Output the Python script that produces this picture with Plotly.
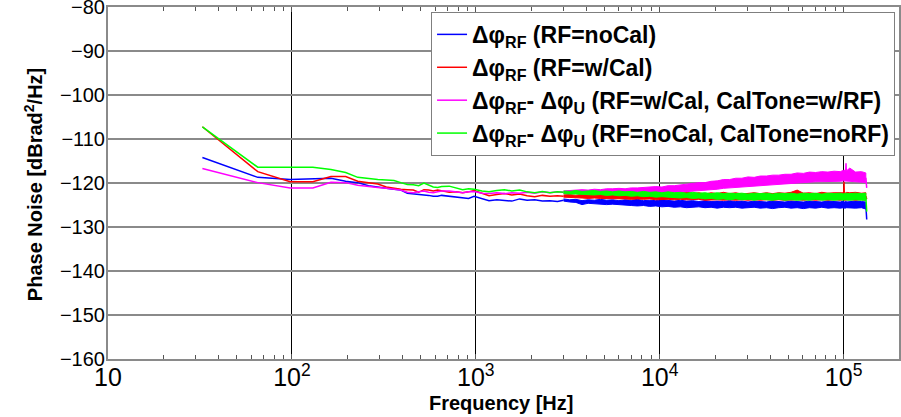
import plotly.graph_objects as go

# ---------------- data ----------------
# low-frequency part (drawn as plain lines), Hz
F_LOW = [32.6, 65.2, 97.8, 130, 163, 196, 228, 261, 293, 326,
         359, 391, 424, 457, 489, 522, 554, 587, 620, 652,
         717, 783, 848, 913, 978, 1080, 1180, 1300, 1430, 1570,
         1730, 1900, 2090, 2300, 2530, 2780, 3000]

blue_low = [-114.2, -118.7, -119.2, -119.1, -118.9, -119.6, -119.9, -120.6, -121.0, -121.2,
            -121.4, -121.6, -122.3, -122.4, -122.5, -122.7, -122.8, -123.0, -123.0, -122.8,
            -123.0, -123.1, -123.4, -123.5, -123.0, -123.6, -124.0, -123.8, -123.9, -124.1,
            -123.6, -123.9, -123.8, -124.1, -124.0, -124.2, -123.9]
red_low = [-107.2, -117.4, -119.7, -119.7, -118.5, -118.5, -119.6, -119.9, -120.2, -120.9,
           -121.2, -121.4, -121.5, -121.6, -122.1, -121.5, -121.6, -121.8, -121.6, -121.8,
           -122.1, -122.0, -122.2, -122.0, -121.7, -122.3, -122.9, -122.6, -122.4, -122.7,
           -122.5, -122.9, -123.1, -122.8, -123.0, -122.9, -123.0]
mag_low = [-116.7, -119.9, -121.1, -121.1, -119.8, -119.9, -120.5, -120.7, -121.0, -121.2,
           -121.4, -121.6, -122.1, -122.2, -122.0, -121.8, -122.1, -122.2, -122.0, -121.8,
           -121.8, -122.1, -122.2, -122.0, -121.9, -122.3, -122.4, -122.2, -122.4, -122.2,
           -122.3, -122.1, -122.3, -122.0, -122.2, -122.0, -122.1]
green_low = [-107.2, -116.4, -116.4, -116.4, -116.9, -117.6, -118.7, -119.0, -119.2, -119.3,
             -119.4, -119.9, -120.3, -120.4, -120.6, -120.0, -120.5, -120.9, -121.0, -120.8,
             -120.7, -121.1, -121.5, -121.3, -121.4, -121.8, -122.0, -121.7, -121.5, -121.8,
             -121.6, -122.0, -122.2, -121.9, -122.2, -122.0, -122.1]

# high-frequency noisy part: upper / lower edges of each band, Hz
F_BAND = [3000, 3240, 3500, 3780, 4080, 4410, 4760, 5140, 5550, 6000,
          6480, 7000, 7560, 8160, 8810, 9520, 10280, 11100, 11990, 12950,
          13990, 15110, 16320, 17620, 19030, 20550, 22200, 23970, 25890, 27960,
          30200, 32620, 35220, 38040, 41090, 44370, 47920, 51760, 55900, 60370,
          65200, 70420, 76050, 82130, 88700, 95800, 99800, 100500, 101200, 102300,
          103000, 103700, 108000, 116000, 125000, 132000]

blue_up = [-123.6, -123.8, -123.7, -124.0, -123.8, -123.9, -123.7, -123.9, -123.8, -124.0,
           -123.8, -123.9, -123.7, -124.0, -123.9, -124.0, -123.8, -124.0, -124.1, -123.9,
           -124.1, -124.0, -124.2, -124.0, -124.2, -124.1, -124.2, -124.0, -124.2, -124.1,
           -124.3, -124.1, -124.2, -124.3, -124.1, -124.2, -124.3, -124.1, -124.2, -124.3,
           -124.1, -124.2, -124.3, -124.1, -124.2, -124.3, -124.1, -124.2, -124.3, -124.2,
           -124.1, -124.3, -124.2, -124.1, -124.2, -124.3]
blue_lo = [-124.1, -124.3, -124.4, -124.9, -124.6, -124.7, -124.8, -124.9, -124.8, -125.0,
           -125.0, -125.1, -125.2, -125.1, -125.3, -125.2, -125.4, -125.3, -125.5, -125.4,
           -125.6, -125.5, -125.4, -125.6, -125.5, -125.7, -125.5, -125.6, -125.5, -125.7,
           -125.6, -125.5, -125.7, -125.6, -125.8, -125.6, -125.5, -125.7, -125.6, -125.8,
           -125.6, -125.7, -125.5, -125.7, -125.6, -125.7, -125.6, -125.8, -125.6, -125.7,
           -125.6, -125.7, -125.6, -125.7, -125.6, -125.9]

red_up = [-122.7, -122.6, -122.8, -122.5, -122.7, -122.4, -122.6, -122.3, -122.6, -122.4,
          -122.5, -122.2, -122.5, -122.3, -122.6, -122.2, -122.4, -122.1, -122.5, -122.3,
          -122.0, -122.4, -122.2, -122.5, -122.2, -122.4, -122.1, -122.4, -122.2, -122.5,
          -122.3, -122.2, -122.4, -122.2, -122.4, -122.2, -122.3, -122.1, -121.6, -122.3,
          -122.2, -122.4, -122.1, -122.3, -122.2, -122.3, -122.2, -119.7, -122.3, -122.2,
          -122.4, -122.1, -122.2, -122.1, -122.3, -122.2]
red_lo = [-123.2, -123.3, -123.3, -123.4, -123.5, -123.4, -123.5, -123.6, -123.5, -123.6,
          -123.6, -123.7, -123.6, -123.7, -123.6, -123.8, -123.7, -123.7, -123.8, -123.7,
          -123.8, -123.8, -123.7, -123.9, -123.8, -123.8, -123.9, -123.8, -123.9, -123.8,
          -123.9, -123.8, -123.9, -123.8, -123.9, -123.8, -123.9, -123.9, -123.8, -123.9,
          -123.8, -123.9, -123.8, -123.9, -123.8, -123.9, -123.8, -123.9, -123.8, -123.9,
          -123.8, -123.9, -123.8, -123.9, -123.8, -123.9]

mag_up = [-121.8, -121.7, -121.7, -121.5, -121.6, -121.4, -121.5, -121.3, -121.3, -121.2,
          -121.3, -121.1, -121.1, -121.0, -121.0, -120.8, -120.9, -120.6, -120.6, -120.4,
          -120.3, -120.1, -119.9, -119.9, -119.6, -119.5, -119.2, -119.2, -118.9, -118.9,
          -118.6, -118.7, -118.4, -118.4, -118.2, -118.2, -118.0, -118.0, -117.7, -117.8,
          -117.5, -117.6, -117.4, -117.5, -117.3, -117.4, -117.1, -117.3, -117.0, -117.2,
          -115.5, -117.2, -116.6, -117.5, -117.4, -117.7]
mag_lo = [-122.4, -122.4, -122.4, -122.4, -122.5, -122.3, -122.4, -122.4, -122.4, -122.4,
          -122.5, -122.4, -122.3, -122.4, -122.3, -122.3, -122.4, -122.3, -122.2, -122.1,
          -122.0, -121.8, -121.8, -121.6, -121.5, -121.4, -121.2, -121.1, -121.0, -120.9,
          -120.7, -120.6, -120.5, -120.4, -120.3, -120.3, -120.1, -120.1, -120.0, -119.9,
          -119.8, -119.7, -119.7, -119.6, -119.6, -119.6, -119.5, -119.6, -119.5, -119.5,
          -119.6, -119.5, -119.6, -119.7, -119.8, -119.9]

green_up = [-121.8, -121.9, -121.7, -121.9, -121.8, -121.7, -121.9, -121.8, -122.0, -121.8,
            -122.0, -121.9, -122.1, -121.9, -122.1, -122.0, -122.2, -122.0, -122.2, -122.1,
            -122.3, -122.1, -122.3, -122.2, -122.4, -122.2, -122.4, -122.3, -122.4, -122.3,
            -122.5, -122.3, -122.4, -122.3, -122.5, -122.3, -122.4, -122.3, -122.5, -122.3,
            -122.4, -122.3, -122.5, -122.3, -122.4, -122.3, -122.5, -122.3, -122.4, -122.3,
            -122.5, -122.3, -122.4, -122.3, -122.4, -122.3]
green_lo = [-122.4, -122.5, -122.5, -122.6, -122.6, -122.7, -122.6, -122.8, -122.7, -122.9,
            -122.8, -123.0, -122.9, -123.1, -123.0, -123.2, -123.1, -123.3, -123.3, -123.4,
            -123.3, -123.5, -123.4, -123.6, -123.5, -123.7, -123.6, -123.8, -123.6, -123.8,
            -123.7, -123.9, -123.7, -123.8, -123.9, -123.7, -123.9, -123.8, -123.9, -123.8,
            -123.9, -123.7, -123.9, -123.8, -123.9, -123.8, -123.9, -123.8, -123.9, -123.8,
            -123.9, -123.8, -123.9, -123.8, -123.9, -123.9]

# final samples at the end of the record
F_TAIL = [132000, 133500]
blue_tail = [-125.0, -128.3]
red_tail = [-123.0, -123.6]
mag_tail = [-118.8, -121.1]
green_tail = [-123.1, -126.5]

Y_TICKS = [-160, -150, -140, -130, -120, -110, -100, -90, -80]

NAMES = [
    "Δφ<sub>RF</sub> (RF=noCal)",
    "Δφ<sub>RF</sub> (RF=w/Cal)",
    "Δφ<sub>RF</sub>- Δφ<sub>U</sub> (RF=w/Cal, CalTone=w/RF)",
    "Δφ<sub>RF</sub>- Δφ<sub>U</sub> (RF=noCal, CalTone=noRF)",
]
COLORS = ["#0000FF", "#FF0000", "#FF00FF", "#00FF00"]

SERIES = [
    (blue_low, blue_up, blue_lo, blue_tail),
    (red_low, red_up, red_lo, red_tail),
    (mag_low, mag_up, mag_lo, mag_tail),
    (green_low, green_up, green_lo, green_tail),
]

# ---------------- figure ----------------
fig = go.Figure()
for i, (low, up, lo, tail) in enumerate(SERIES):
    c = COLORS[i]
    g = "s%d" % i
    fig.add_trace(go.Scatter(x=F_LOW, y=low, mode="lines", name=NAMES[i],
                             line=dict(color=c, width=1.5), legendgroup=g,
                             hoverinfo="skip"))
    fig.add_trace(go.Scatter(x=F_BAND + F_BAND[::-1], y=up + lo[::-1],
                             mode="lines", fill="toself", fillcolor=c,
                             line=dict(color=c, width=1), showlegend=False,
                             legendgroup=g, hoverinfo="skip"))
    fig.add_trace(go.Scatter(x=F_TAIL, y=tail, mode="lines",
                             line=dict(color=c, width=1.5), showlegend=False,
                             legendgroup=g, hoverinfo="skip"))

FONT = "Liberation Sans, Arial, Helvetica, sans-serif"

fig.update_layout(
    width=901, height=417,
    margin=dict(l=108, r=2, t=7, b=58, autoexpand=False),
    paper_bgcolor="white", plot_bgcolor="white",
    font=dict(family=FONT, size=20, color="black"),
    showlegend=True,
    legend=dict(x=0.995, y=0.986, xanchor="right", yanchor="top",
                bgcolor="white", bordercolor="#7f7f7f", borderwidth=1,
                font=dict(family=FONT, size=23, color="black", weight="bold"),
                tracegroupgap=0),
)

fig.update_xaxes(
    type="log", range=[1, 5.301], dtick=1, exponentformat="power",
    showgrid=True, gridcolor="#000000", gridwidth=1,
    showline=True, linecolor="#8a8a8a", linewidth=2, mirror="ticks",
    ticks="inside", ticklen=5, tickcolor="#555555",
    minor=dict(ticks="inside", ticklen=4, tickcolor="#555555", showgrid=False),
    tickfont=dict(family=FONT, size=20, color="black"),
    ticklabelstandoff=-4, ticklabeloverflow="allow", automargin=False,
    zeroline=False,
)
fig.update_yaxes(
    range=[-160, -79.97], tickmode="array", tickvals=Y_TICKS,
    showgrid=True, gridcolor="#8a8a8a", gridwidth=1.5,
    showline=True, linecolor="#8a8a8a", linewidth=2, mirror=True,
    ticks="", tickfont=dict(family=FONT, size=20, color="black"),
    ticklabelstandoff=-3, ticklabeloverflow="allow", automargin=False,
    zeroline=False,
)

fig.add_annotation(text="Frequency [Hz]", xref="paper", yref="paper",
                   x=0.497, y=-0.126, xanchor="center", yanchor="middle",
                   showarrow=False,
                   font=dict(family=FONT, size=20, color="black", weight="bold"))
fig.add_annotation(text="Phase Noise [dBrad<sup>2</sup>/Hz]", xref="paper", yref="paper",
                   x=-0.0948, y=0.494, xanchor="center", yanchor="middle",
                   textangle=-90, showarrow=False,
                   font=dict(family=FONT, size=20, color="black", weight="bold"))

fig.write_html("out.html")
